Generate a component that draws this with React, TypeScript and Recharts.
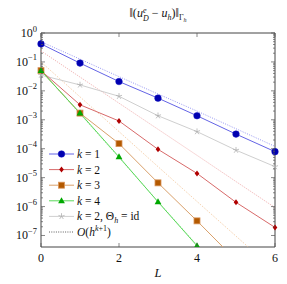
import React from 'react';
import { LineChart, Line, XAxis, YAxis, ReferenceArea, Legend } from 'recharts';

// refinement level L on the x axis
const levels = [0, 1, 2, 3, 4, 5, 6];

// error values (log scale)
const errK1 = [0.42, 0.091, 0.021, 5.6e-3, 1.38e-3, 3.2e-4, 7.9e-5];
const errK2 = [0.05, 3.3e-3, 9.1e-4, 9.5e-5, 1.4e-5, 1.4e-6, 1.9e-7];
const errK3 = [0.05, 1.7e-3, 1.5e-4, 6.6e-6, 3.2e-7, 1.4e-8, null];
const errK4 = [0.05, 1.7e-3, 5.2e-5, 1.45e-6, 4.4e-8, null, null];
const errK2Id = [0.035, 0.016, 6.5e-3, 1.38e-3, 3.9e-4, 8.9e-5, 2.4e-5];

// dotted O(h^{k+1}) guide lines
const refK1 = [0.5, 0.125, 0.031, 7.8e-3, 2.0e-3, 4.9e-4, 1.2e-4];
const refK2 = [0.24, 0.03, 3.75e-3, 4.7e-4, 5.9e-5, 7.3e-6, 9.2e-7];
const refK3 = [0.1, 6.2e-3, 3.9e-4, 2.4e-5, 1.5e-6, 9.5e-8, 6e-9];
const refK4 = [0.05, 1.6e-3, 4.9e-5, 1.5e-6, 4.7e-8, null, null];

const xTicks = [0, 2, 4, 6];
const yMajorTicks = [1e-7, 1e-6, 1e-5, 1e-4, 1e-3, 1e-2, 1e-1, 1];
const Y_MIN = 4e-8;
const Y_MAX = 1;

const legendLabels = ['k1', 'k2', 'k3', 'k4', 'k2id', 'ref'];

const data = levels.map((L, i) => ({
  L,
  k1: errK1[i],
  k2: errK2[i],
  k3: errK3[i],
  k4: errK4[i],
  k2id: errK2Id[i],
  r1: refK1[i],
  r2: refK2[i],
  r3: refK3[i],
  r4: refK4[i],
}));

const yTicks: number[] = [];
yMajorTicks.forEach((m) => {
  for (let d = 1; d <= 9; d++) {
    const v = m * d;
    if (v >= Y_MIN && v <= Y_MAX * 1.0001) yTicks.push(v);
  }
});

const W = 287;
const H = 284;
const PLOT_LEFT = 41;
const PLOT_RIGHT = 275;
const PLOT_TOP = 33;
const PLOT_BOTTOM = 247;
const FONT = "'Liberation Serif', 'Times New Roman', 'DejaVu Serif', serif";
const textStyle = { fontFamily: FONT };

const isMajor = (v: number) => {
  const e = Math.log10(v);
  return Math.abs(e - Math.round(e)) < 1e-6;
};

function YTick(props: any) {
  const { y, payload } = props;
  const v = payload.value;
  const major = isMajor(v);
  const len = major ? 4 : 2;
  const exp = Math.round(Math.log10(v));
  return (
    <g>
      <line x1={PLOT_LEFT} x2={PLOT_LEFT + len} y1={y} y2={y} stroke="#555" strokeWidth={0.7} />
      <line x1={PLOT_RIGHT - len} x2={PLOT_RIGHT} y1={y} y2={y} stroke="#555" strokeWidth={0.7} />
      {major && (
        <text x={37} y={y + 4} textAnchor="end" style={textStyle} fontSize={12} fill="#111">
          10
          <tspan dy={-5.5} fontSize={8.5}>
            {exp === 0 ? '0' : '\u2212' + -exp}
          </tspan>
        </text>
      )}
    </g>
  );
}

function XTick(props: any) {
  const { x, payload } = props;
  return (
    <g>
      <line x1={x} x2={x} y1={PLOT_BOTTOM} y2={PLOT_BOTTOM - 4} stroke="#555" strokeWidth={0.7} />
      <line x1={x} x2={x} y1={PLOT_TOP} y2={PLOT_TOP + 4} stroke="#555" strokeWidth={0.7} />
      <text x={x} y={PLOT_BOTTOM + 15} textAnchor="middle" style={textStyle} fontSize={12} fill="#111">
        {payload.value}
      </text>
    </g>
  );
}

// marker shapes
const circle = (cx: number, cy: number, key?: string) => (
  <circle key={key} cx={cx} cy={cy} r={3.3} fill="#0000b0" stroke="#1010c0" strokeWidth={0.5} />
);
const diamond = (cx: number, cy: number, key?: string) => (
  <polygon
    key={key}
    points={`${cx},${cy - 3} ${cx + 2.3},${cy} ${cx},${cy + 3} ${cx - 2.3},${cy}`}
    fill="#b00000"
  />
);
const square = (cx: number, cy: number, key?: string) => (
  <rect key={key} x={cx - 3} y={cy - 3} width={6} height={6} fill="#b35900" stroke="#d9955a" strokeWidth={0.8} />
);
const triangle = (cx: number, cy: number, key?: string) => (
  <polygon
    key={key}
    points={`${cx},${cy - 3.6} ${cx + 3.4},${cy + 2.4} ${cx - 3.4},${cy + 2.4}`}
    fill="#00a800"
  />
);
const star = (cx: number, cy: number, key?: string) => (
  <g key={key} stroke="#b0b0b0" strokeWidth={0.8}>
    {[0, 1, 2, 3, 4].map((j) => {
      const a = -Math.PI / 2 + (j * 2 * Math.PI) / 5;
      return <line key={j} x1={cx} y1={cy} x2={cx + 3.2 * Math.cos(a)} y2={cy + 3.2 * Math.sin(a)} />;
    })}
  </g>
);

const dotFn = (shape: (cx: number, cy: number, key?: string) => React.ReactElement, name: string) =>
  (p: any) => {
    const key = `${name}-${p.index}`;
    if (p.cx == null || p.cy == null || p.value == null) return <g key={key} />;
    return shape(p.cx, p.cy, key);
  };

const series = [
  { key: 'k1', line: '#6464e6', shape: circle },
  { key: 'k2', line: '#d86a6a', shape: diamond },
  { key: 'k3', line: '#d9a06a', shape: square },
  { key: 'k4', line: '#5ad85a', shape: triangle },
  { key: 'k2id', line: '#cfcfcf', shape: star },
];

const refs = [
  { key: 'r1', color: '#8a8af0' },
  { key: 'r2', color: '#eb9a9a' },
  { key: 'r3', color: '#f0c090' },
  { key: 'r4', color: '#90e890' },
];

function LegendBox() {
  const rowH = 15.6;
  const lineX1 = 2;
  const lineX2 = 27;
  const mx = 14.5;
  const tx = 30;
  return (
    <svg width={150} height={100} style={{ overflow: 'visible' }}>
      {legendLabels.map((lab, i) => {
        const y = 8 + i * rowH;
        const s = series.find((d) => d.key === lab);
        return (
          <g key={lab}>
            {s ? (
              <>
                <line x1={lineX1} x2={lineX2} y1={y} y2={y} stroke={s.line} strokeWidth={1} />
                {s.shape(mx, y)}
              </>
            ) : (
              <line x1={lineX1} x2={lineX2} y1={y} y2={y} stroke="#333" strokeWidth={0.8} strokeDasharray="1 1.3" />
            )}
            <text x={tx} y={y + 4} style={textStyle} fontSize={11.5} fill="#111">
              {lab === 'ref' ? (
                <>
                  <tspan fontStyle="italic">O</tspan>(<tspan fontStyle="italic">h</tspan>
                  <tspan dy={-5} fontSize={8}>
                    <tspan fontStyle="italic">k</tspan>+1
                  </tspan>
                  <tspan dy={5}>)</tspan>
                </>
              ) : lab === 'k2id' ? (
                <>
                  <tspan fontStyle="italic">k</tspan> = 2, Θ
                  <tspan dy={2.5} fontSize={8} fontStyle="italic">h</tspan>
                  <tspan dy={-2.5}> = id</tspan>
                </>
              ) : (
                <>
                  <tspan fontStyle="italic">k</tspan> = {lab.slice(1)}
                </>
              )}
            </text>
          </g>
        );
      })}
    </svg>
  );
}

export default function App() {
  return (
    <div style={{ position: 'relative', width: W, height: H, background: '#fff' }}>
      <style>{'body{margin:0}'}</style>
      <LineChart
        width={W}
        height={H}
        data={data}
        margin={{ top: PLOT_TOP, right: W - PLOT_RIGHT, bottom: H - PLOT_BOTTOM - 30, left: 0 }}
      >
        <XAxis
          dataKey="L"
          type="number"
          domain={[0, 6]}
          ticks={xTicks}
          interval={0}
          tick={(p: any) => <XTick {...p} />}
          tickLine={false}
          axisLine={false}
          height={30}
        />
        <YAxis
          type="number"
          scale="log"
          domain={[Y_MIN, Y_MAX]}
          allowDataOverflow
          ticks={yTicks}
          interval={0}
          tick={(p: any) => <YTick {...p} />}
          tickLine={false}
          axisLine={false}
          width={PLOT_LEFT}
        />
        <ReferenceArea x1={0} x2={6} y1={Y_MIN} y2={Y_MAX} fill="none" stroke="#444" strokeWidth={1} />
        {refs.map((r) => (
          <Line
            key={r.key}
            dataKey={r.key}
            stroke={r.color}
            strokeWidth={0.9}
            strokeDasharray="1 1.4"
            dot={false}
            activeDot={false}
            isAnimationActive={false}
            type="linear"
          />
        ))}
        {[series[4], series[0], series[1], series[2], series[3]].map((s) => (
          <Line
            key={s.key}
            dataKey={s.key}
            stroke={s.line}
            strokeWidth={1}
            dot={dotFn(s.shape, s.key)}
            activeDot={false}
            isAnimationActive={false}
            type="linear"
          />
        ))}
        <Legend
          layout="vertical"
          align="center"
          verticalAlign="middle"
          content={() => <LegendBox />}
          wrapperStyle={{ left: 47, top: 146, width: 150, height: 100 }}
        />
      </LineChart>
      <svg
        width={W}
        height={H}
        style={{ position: 'absolute', left: 0, top: 0, pointerEvents: 'none' }}
      >
        <text x={158} y={17} textAnchor="middle" style={textStyle} fontSize={12} fill="#111">
          ‖(<tspan fontStyle="italic">u</tspan>
          <tspan dy={-4.5} fontSize={8} fontStyle="italic">e</tspan>
          <tspan dx={-3.5} dy={8} fontSize={8} fontStyle="italic">D</tspan>
          <tspan dy={-3.5}> − </tspan>
          <tspan fontStyle="italic">u</tspan>
          <tspan dy={2.5} fontSize={8} fontStyle="italic">h</tspan>
          <tspan dy={-2.5}>)‖</tspan>
          <tspan dy={3} fontSize={8}>Γ</tspan>
          <tspan dy={1.5} fontSize={6} fontStyle="italic">h</tspan>
        </text>
        <text x={158} y={277} textAnchor="middle" style={textStyle} fontSize={12.5} fontStyle="italic" fill="#111">
          L
        </text>
      </svg>
    </div>
  );
}
